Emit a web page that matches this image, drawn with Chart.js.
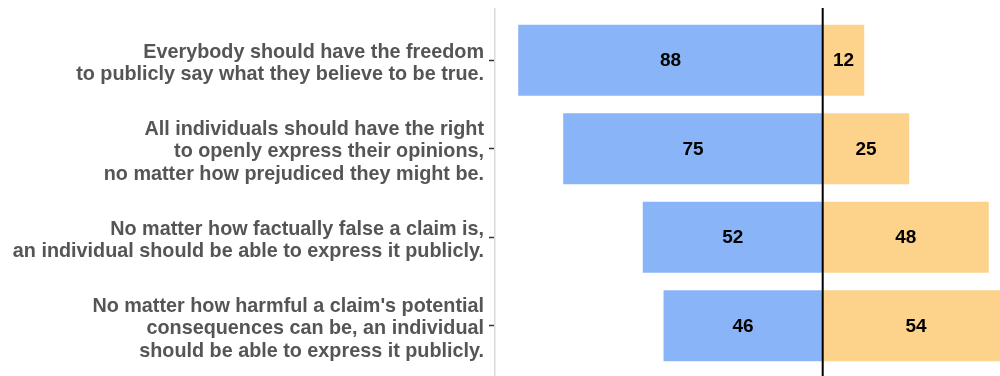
<!DOCTYPE html>
<html>
<head>
<meta charset="utf-8">
<script src="https://cdn.jsdelivr.net/npm/chart.js@4.4.1/dist/chart.umd.min.js"></script>
<style>
  html, body { margin: 0; padding: 0; background: #ffffff; overflow: hidden; }
  #wrap { position: absolute; left: 0; top: 0; width: 1013px; height: 376px; }
</style>
</head>
<body>
<div id="wrap"><canvas id="chart"></canvas></div>
<script>
// Survey statements (one row each), split over several lines
const statements = [
  ["Everybody should have the freedom", "to publicly say what they believe to be true."],
  ["All individuals should have the right", "to openly express their opinions,", "no matter how prejudiced they might be."],
  ["No matter how factually false a claim is,", "an individual should be able to express it publicly."],
  ["No matter how harmful a claim's potential", "consequences can be, an individual", "should be able to express it publicly."]
];
// Share agreeing / disagreeing with each statement
const agree = [88, 75, 52, 46];
const disagree = [12, 25, 48, 54];

const FONT = '"Liberation Sans", Arial, Helvetica, sans-serif';

// Draws the axis rules and centred value labels
const divergingDecor = {
  id: 'divergingDecor',
  beforeDatasetsDraw(chart) {
    const { ctx, chartArea } = chart;
    ctx.save();
    ctx.strokeStyle = '#dadada';
    ctx.lineWidth = 1.5;
    ctx.beginPath();
    ctx.moveTo(chartArea.left + 0.75, chartArea.top - 8);
    ctx.lineTo(chartArea.left + 0.75, chart.height);
    ctx.stroke();
    ctx.restore();
  },
  afterDatasetsDraw(chart) {
    const { ctx, chartArea } = chart;
    const zeroX = chart.scales.x.getPixelForValue(0);
    ctx.save();
    ctx.strokeStyle = '#000000';
    ctx.lineWidth = 2;
    ctx.beginPath();
    ctx.moveTo(zeroX, chartArea.top - 8);
    ctx.lineTo(zeroX, chart.height);
    ctx.stroke();

    ctx.fillStyle = '#000000';
    ctx.font = 'bold 19px ' + FONT;
    ctx.textAlign = 'center';
    ctx.textBaseline = 'middle';
    chart.data.datasets.forEach((ds, di) => {
      const meta = chart.getDatasetMeta(di);
      meta.data.forEach((bar, i) => {
        const cx = (bar.x + bar.base) / 2;
        ctx.fillText(String(Math.abs(ds.data[i])), cx, bar.y + 1);
      });
    });
    ctx.restore();
  }
};

new Chart(document.getElementById('chart'), {
  type: 'bar',
  data: {
    labels: statements,
    datasets: [
      {
        label: 'Agree',
        data: agree.map(v => -v),
        backgroundColor: '#8ab4f8',
        borderWidth: 0,
        barPercentage: 1,
        categoryPercentage: 0.8
      },
      {
        label: 'Disagree',
        data: disagree,
        backgroundColor: '#fdd38b',
        borderWidth: 0,
        barPercentage: 1,
        categoryPercentage: 0.8
      }
    ]
  },
  options: {
    indexAxis: 'y',
    responsive: true,
    maintainAspectRatio: false,
    animation: false,
    layout: { padding: { top: 16, bottom: 6, left: 0, right: 0 } },
    plugins: {
      legend: { display: false },
      tooltip: { enabled: false }
    },
    scales: {
      x: {
        stacked: true,
        min: -95,
        max: 55,
        display: false
      },
      y: {
        stacked: true,
        afterFit(scale) {
          scale.width = 494;
          scale.paddingTop = 0;
          scale.paddingBottom = 0;
        },
        border: { display: false },
        grid: {
          offset: false,
          drawOnChartArea: false,
          drawTicks: true,
          tickLength: 5,
          tickColor: '#333333',
          tickWidth: 1.5
        },
        ticks: {
          padding: 5,
          labelOffset: 3,
          color: '#555555',
          font: { family: FONT, size: 19.8, weight: 'bold', lineHeight: 1.13 }
        }
      }
    }
  },
  plugins: [divergingDecor]
});
</script>
</body>
</html>
